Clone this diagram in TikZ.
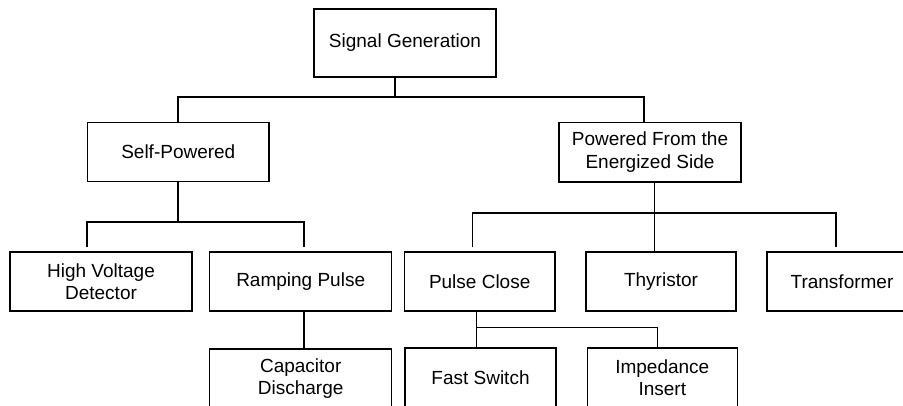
\documentclass[tikz,border=0pt]{standalone}
\usepackage{fontspec}
\setmainfont{Liberation Sans}
\usetikzlibrary{calc}
\tikzset{
  box/.style={draw=black, line width=1.4pt, rectangle, inner sep=0pt, align=center,
    font=\fontsize{19pt}{22.5pt}\selectfont},
  conn/.style={draw=black, line width=1.4pt}
}
\begin{document}
\begin{tikzpicture}[x=1pt,y=-1pt]
\useasboundingbox (0,0) rectangle (903,405);
\clip (0,0) rectangle (903,405);
% nodes
\node[box, minimum width=182pt, minimum height=68pt] (sg) at (405,43) {Signal Generation};
\node[box, minimum width=181.3pt, minimum height=59pt] (self) at (178.3,152.2) {Self-Powered};
\node[box, minimum width=181.7pt, minimum height=59.3pt] (pow) at (650,152.3) {Powered From the\\Energized Side};
\node[box, minimum width=182pt, minimum height=59pt] (hvd) at (101,281.5) {High Voltage\\Detector};
\node[box, minimum width=182pt, minimum height=59pt] (ramp) at (300.7,281.5) {Ramping Pulse};
\node[box, minimum width=150.7pt, minimum height=59pt] (pc) at (479.7,281.5) {Pulse Close};
\node[box, minimum width=150pt, minimum height=59pt] (thy) at (661,281.5) {Thyristor};
\node[box, minimum width=150pt, minimum height=59pt] (tra) at (842,281.5) {Transformer};
\node[box, minimum width=182pt, minimum height=59pt] (cap) at (300.7,378.5) {Capacitor\\Discharge};
\node[box, minimum width=151pt, minimum height=59pt] (fs) at (480.5,377.5) {Fast Switch};
\node[box, minimum width=150pt, minimum height=59pt] (imp) at (662.3,377.5) {Impedance\\Insert};
% junction coordinates
\coordinate (j1) at (395,97);
\coordinate (b1l) at (178,97);
\coordinate (b1r) at (644,97);
\coordinate (j2) at (178,222);
\coordinate (b2l) at (87,222);
\coordinate (b2r) at (304,222);
\coordinate (j3) at (654.3,213);
\coordinate (b3l) at (472.7,213);
\coordinate (b3r) at (836,213);
\coordinate (j4) at (476.5,327.7);
\coordinate (b4r) at (657.7,327.7);
% connectors
\draw[conn] (sg.south -| j1) -- (j1);
\draw[conn] (self.north -| b1l) -- (b1l) -- (b1r) -- (pow.north -| b1r);
\draw[conn] (self.south -| j2) -- (j2);
\draw[conn] ($(hvd.north -| b2l)+(0,-4)$) -- (b2l) -- (b2r) -- ($(ramp.north -| b2r)+(0,-4)$);
\draw[conn] (pow.south -| j3) -- (j3);
\draw[conn] ($(pc.north -| b3l)+(0,-4)$) -- (b3l) -- (b3r) -- ($(tra.north -| b3r)+(0,-4)$);
\draw[conn] (j3) -- (thy.north -| j3);
\draw[conn] (ramp.south -| b2r) -- (cap.north -| b2r);
\draw[conn] (pc.south -| j4) -- (j4) -- (fs.north -| j4);
\draw[conn] (j4) -- (b4r) -- (imp.north -| b4r);
\end{tikzpicture}
\end{document}
